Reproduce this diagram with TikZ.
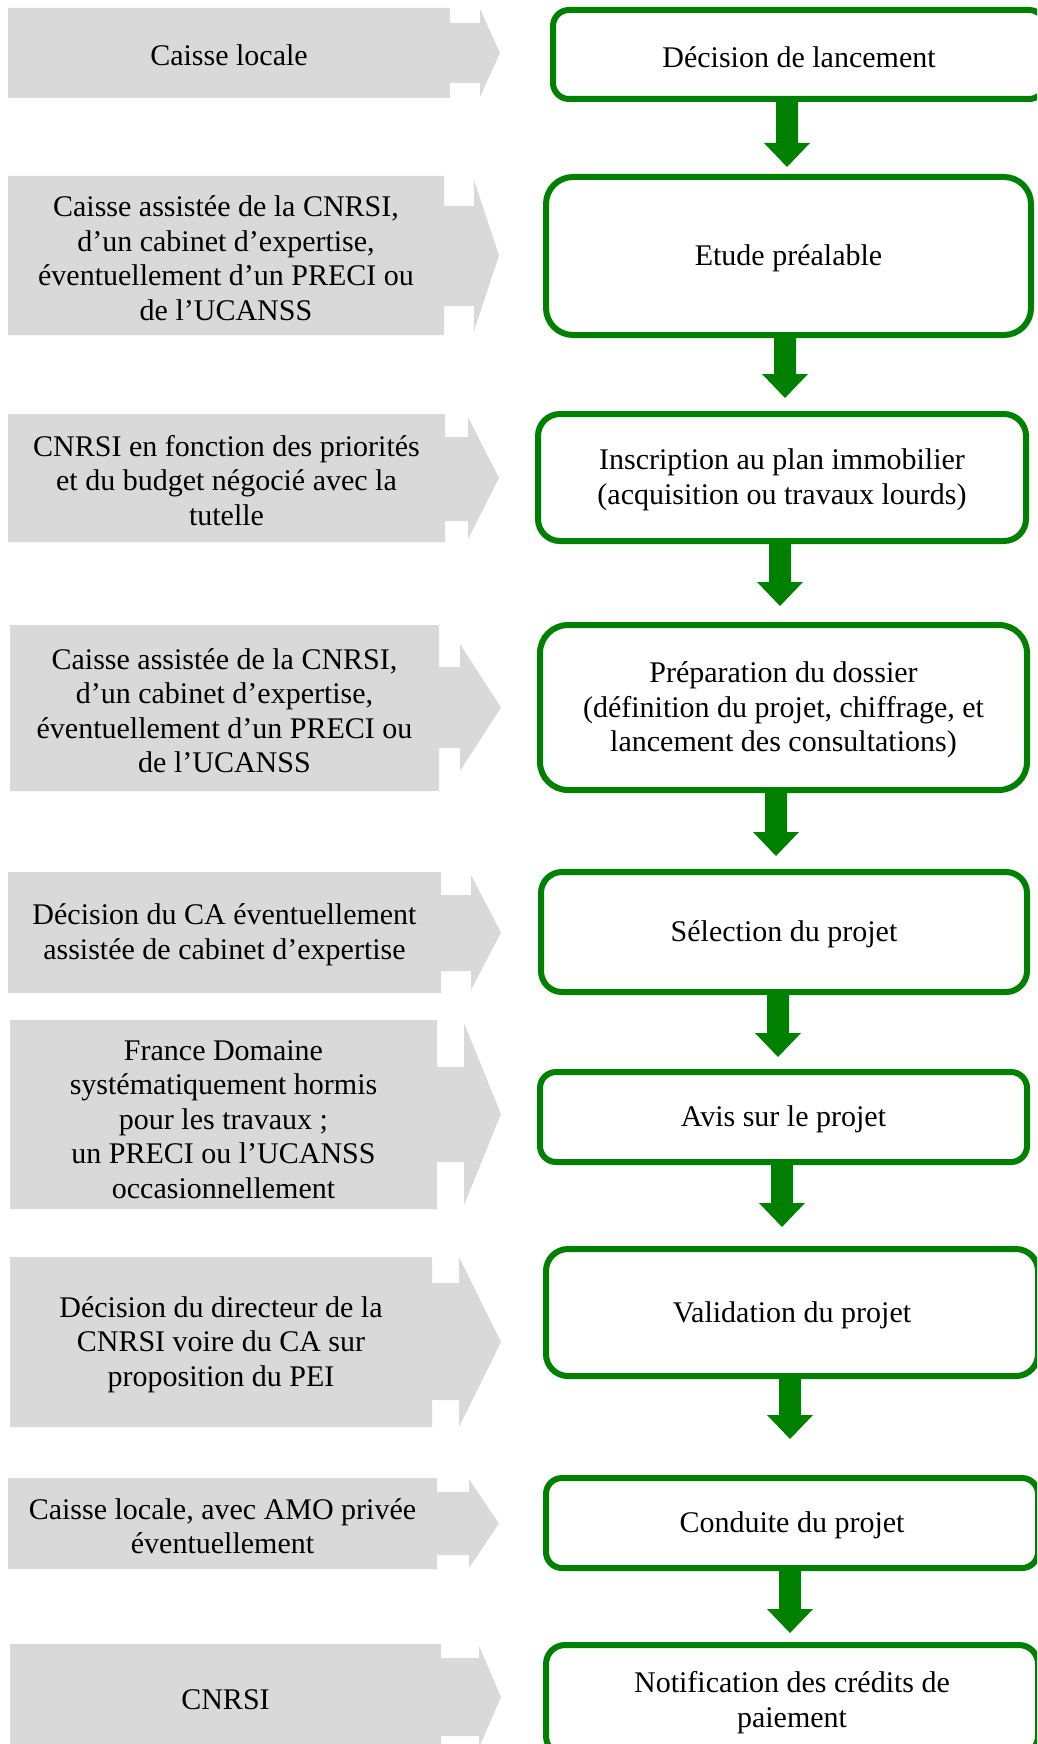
\documentclass[tikz,border=0pt]{standalone}
\usepackage{fontspec}
\setmainfont{Liberation Serif}
\usetikzlibrary{calc}
\definecolor{ggreen}{RGB}{0,128,0}
\definecolor{ggray}{RGB}{217,217,217}
\newcommand{\diagfont}{\fontsize{30}{34.5}\selectfont}
\newcommand{\fatarrow}[2]{%
  \fill[ggreen] ($(#1)+(-11,-2)$) -- ($(#2)+(-11,-24)$) -- ($(#2)+(-23,-24)$) -- (#2)
    -- ($(#2)+(23,-24)$) -- ($(#2)+(11,-24)$) -- ($(#1)+(11,-2)$) -- cycle;}
\tikzset{
  gbox/.style={draw=ggreen, line width=6pt, fill=white, align=center, inner sep=0pt, font=\diagfont, text=black},
  gtext/.style={align=center, inner sep=0pt, font=\diagfont, text=black, yshift=-2.5pt},
  btext/.style={align=center, inner sep=0pt, font=\diagfont, text=black, yshift=-2.5pt},
  grayshape/.style={fill=ggray, draw=none}
}
\begin{document}
\begin{tikzpicture}[x=1pt,y=-1pt]
\useasboundingbox (0,0) rectangle (1037,1744);
\clip (0,0) rectangle (1037,1744);

% gray arrow shapes
\fill[grayshape] (8,8) -- (450,8) -- (450,23) -- (480,23) -- (480,9) -- (500,53) -- (480,97) -- (480,83) -- (450,83) -- (450,98) -- (8,98) -- cycle;
\fill[grayshape] (8,176) -- (444,176) -- (444,206) -- (474,206) -- (474,180) -- (499,255.5) -- (474,331) -- (474,306) -- (444,306) -- (444,335) -- (8,335) -- cycle;
\fill[grayshape] (8,414) -- (445,414) -- (445,437) -- (468,437) -- (468,417) -- (499,478) -- (468,539) -- (468,521) -- (445,521) -- (445,542) -- (8,542) -- cycle;
\fill[grayshape] (10,625) -- (439,625) -- (439,667) -- (460,667) -- (460,644) -- (501,707.5) -- (460,771) -- (460,748) -- (439,748) -- (439,791) -- (10,791) -- cycle;
\fill[grayshape] (8,872) -- (441,872) -- (441,895) -- (471,895) -- (471,875) -- (501,932.5) -- (471,990) -- (471,971) -- (441,971) -- (441,993) -- (8,993) -- cycle;
\fill[grayshape] (10,1020) -- (437,1020) -- (437,1067) -- (464,1067) -- (464,1023) -- (501,1114) -- (464,1205) -- (464,1162) -- (437,1162) -- (437,1209) -- (10,1209) -- cycle;
\fill[grayshape] (10,1257) -- (432,1257) -- (432,1283) -- (459,1283) -- (459,1257) -- (501,1342) -- (459,1427) -- (459,1400) -- (432,1400) -- (432,1427) -- (10,1427) -- cycle;
\fill[grayshape] (8,1478) -- (437,1478) -- (437,1492) -- (469,1492) -- (469,1479) -- (499,1523.5) -- (469,1568) -- (469,1555) -- (437,1555) -- (437,1569) -- (8,1569) -- cycle;
\fill[grayshape] (10,1644) -- (441,1644) -- (441,1658) -- (479,1658) -- (479,1646) -- (501,1697) -- (479,1748) -- (479,1736) -- (441,1736) -- (441,1750) -- (10,1750) -- cycle;

% gray texts
\node[gtext] (g1) at (229,53) {Caisse locale};
\node[gtext] (g2) at (226,255.5) {Caisse assistée de la CNRSI,\\d’un cabinet d’expertise,\\éventuellement d’un PRECI ou\\de l’UCANSS};
\node[gtext] (g3) at (226.5,478) {CNRSI en fonction des priorités\\et du budget négocié avec la\\tutelle};
\node[gtext] (g4) at (224.5,708) {Caisse assistée de la CNRSI,\\d’un cabinet d’expertise,\\éventuellement d’un PRECI ou\\de l’UCANSS};
\node[gtext] (g5) at (224.5,932.5) {Décision du CA éventuellement\\assistée de cabinet d’expertise};
\node[gtext] (g6) at (223.5,1117) {France Domaine\\systématiquement hormis\\pour les travaux ;\\un PRECI ou l’UCANSS\\occasionnellement};
\node[gtext] (g7) at (221,1342) {Décision du directeur de la\\CNRSI voire du CA sur\\proposition du PEI};
\node[gtext] (g8) at (222.5,1523.5) {Caisse locale, avec AMO privée\\éventuellement};
\node[gtext] (g9) at (225.5,1697) {CNRSI};

% green boxes
\node[gbox, minimum width=492pt, minimum height=89pt, rounded corners=16pt] (b1) at (799,54.5) {};
\node[gbox, minimum width=485pt, minimum height=158pt, rounded corners=27pt] (b2) at (788.5,256) {};
\node[gbox, minimum width=488pt, minimum height=127pt, rounded corners=22pt] (b3) at (782,477.5) {};
\node[gbox, minimum width=487pt, minimum height=165pt, rounded corners=28pt] (b4) at (783.5,707.5) {};
\node[gbox, minimum width=486pt, minimum height=120pt, rounded corners=21pt] (b5) at (784,932) {};
\node[gbox, minimum width=487pt, minimum height=90pt, rounded corners=16pt] (b6) at (783.5,1117) {};
\node[gbox, minimum width=492pt, minimum height=127pt, rounded corners=22pt] (b7) at (792,1312.5) {};
\node[gbox, minimum width=492pt, minimum height=90pt, rounded corners=16pt] (b8) at (792,1523) {};
\node[gbox, minimum width=492pt, minimum height=110pt, rounded corners=19pt] (b9) at (792,1700) {};

% green box texts
\node[btext] (l1) at (b1.center) {Décision de lancement};
\node[btext] (l2) at (b2.center) {Etude préalable};
\node[btext] (l3) at (b3.center) {Inscription au plan immobilier\\(acquisition ou travaux lourds)};
\node[btext] (l4) at (b4.center) {Préparation du dossier\\(définition du projet, chiffrage, et\\lancement des consultations)};
\node[btext] (l5) at (b5.center) {Sélection du projet};
\node[btext] (l6) at (b6.center) {Avis sur le projet};
\node[btext] (l7) at (b7.center) {Validation du projet};
\node[btext] (l8) at (b8.center) {Conduite du projet};
\node[btext] (l9) at (b9.center) {Notification des crédits de\\paiement};

% green arrows
\coordinate (t1) at (787,167);
\coordinate (t2) at (785,398);
\coordinate (t3) at (780,606);
\coordinate (t4) at (776,856);
\coordinate (t5) at (778,1057);
\coordinate (t6) at (782,1227);
\coordinate (t7) at (790,1439);
\coordinate (t8) at (790,1633);
\fatarrow{b1.south -| t1}{t1}
\fatarrow{b2.south -| t2}{t2}
\fatarrow{b3.south -| t3}{t3}
\fatarrow{b4.south -| t4}{t4}
\fatarrow{b5.south -| t5}{t5}
\fatarrow{b6.south -| t6}{t6}
\fatarrow{b7.south -| t7}{t7}
\fatarrow{b8.south -| t8}{t8}
\end{tikzpicture}
\end{document}
